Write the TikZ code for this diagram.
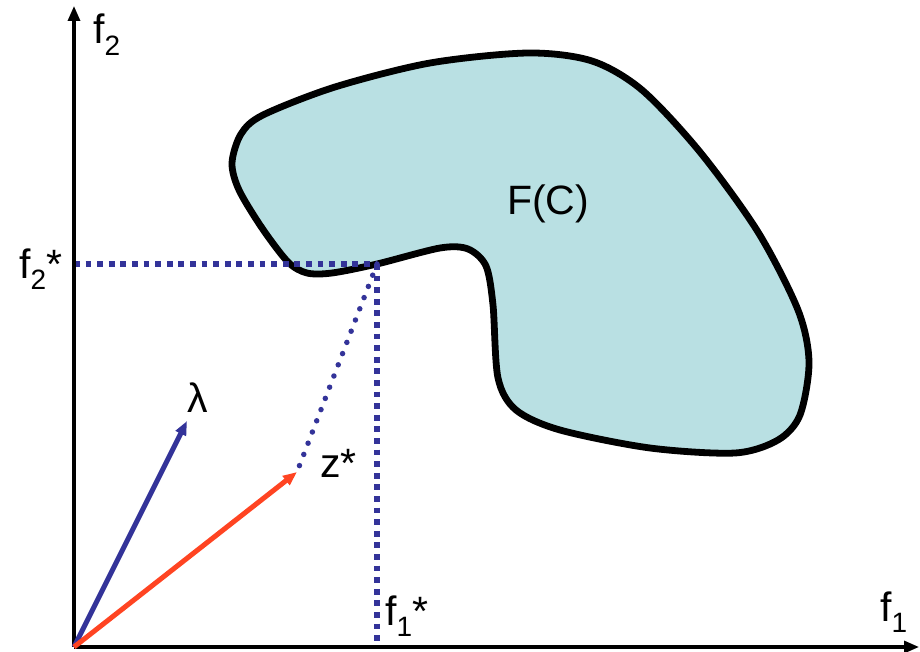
\documentclass[tikz,border=0pt]{standalone}
\usepackage{fontspec}
\setmainfont{Liberation Sans}
\usetikzlibrary{arrows.meta}
\definecolor{navy}{HTML}{333399}
\definecolor{redorange}{HTML}{FF4422}
\definecolor{teal}{HTML}{B9E0E3}
\newcommand{\mysub}[1]{\raisebox{-0.27em}{\fontsize{28}{28}\selectfont #1}}
\tikzset{
  lbl/.style={anchor=base west, inner sep=0pt, font=\fontsize{41}{46}\selectfont},
  axis/.style={line width=3.2pt, -{Triangle[length=15pt,width=12pt]}},
  vec/.style={line width=5pt, -{Triangle[length=14pt,width=11pt]}},
  sqdot/.style={navy, line width=5.8pt, dash pattern=on 5.8pt off 5.8pt},
  rddot/.style={navy, line width=5.5pt, line cap=round, dash pattern=on 0pt off 12pt},
}
\begin{document}
\begin{tikzpicture}[x=1pt,y=-1pt]
\useasboundingbox (0,0) rectangle (920,652);
% blob
\draw[fill=teal, line width=6.8pt] plot[smooth cycle, tension=0.5] coordinates {
 (232,163) (241,134) (263,115) (335,87) (430,63) (528,53) (592,61) (642,90)
 (700,152) (758,232) (798,310) (809,362) (800,415) (778,440) (735,453)
 (650,448) (560,430) (516,410) (498,378) (493,305) (486,266) (468,249)
 (440,248) (377,264) (332,273) (307,273) (288,262) (262,228) (239,190)};
\node[lbl] (fc) at (507,215) {F(C)};
% points
\coordinate (O) at (74,647);
\coordinate (ytop) at (74,6);
\coordinate (xend) at (919,647);
\coordinate (P) at (377,264);
\coordinate (Py) at (74,264);
\coordinate (Px) at (377,648);
\coordinate (Z) at (297,472);
\coordinate (L) at (187,421);
% dotted lines
\draw[sqdot] (Py) -- (P);
\draw[sqdot] (P) -- (Px);
\draw[rddot] (P) -- (Z);
% axes
\draw[axis] (O) -- (ytop);
\draw[axis] (O) -- (xend);
% vectors
\draw[vec, navy] (O) -- (L);
\draw[vec, redorange] (O) -- (Z);
% labels
\node[lbl] (f2) at (93,44) {f\mysub{2}};
\node[lbl] (f1) at (880,621) {f\mysub{1}};
\node[lbl] (f2s) at (19,278) {f\mysub{2}*};
\node[lbl] (f1s) at (385,625) {f\mysub{1}*};
\node[lbl] (lam) at (187,412) {λ};
\node[lbl] (zs) at (320,477) {z*};
\end{tikzpicture}
\end{document}
